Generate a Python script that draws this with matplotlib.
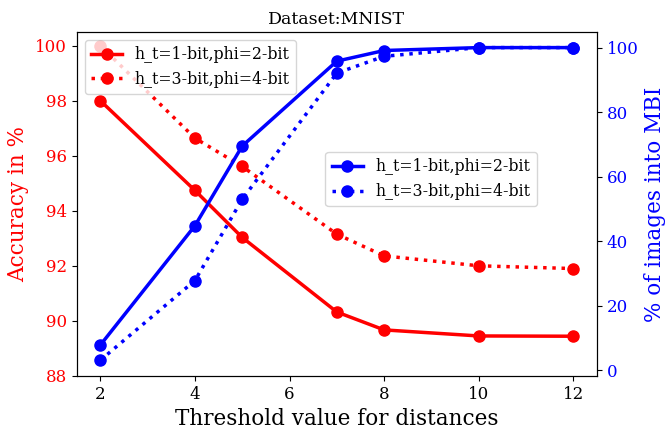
import numpy as np
import matplotlib
matplotlib.use("Agg")
import matplotlib.pyplot as plt

plt.rcParams['font.family'] = 'DejaVu Serif'

thresholds = [2, 4, 5, 7, 8, 10, 12]

# accuracy (%) - left axis
acc_1bit = [98.0, 94.74, 93.03, 90.32, 89.67, 89.45, 89.44]
acc_3bit = [100.0, 96.64, 95.61, 93.15, 92.36, 92.0, 91.9]

# % of images into MBI - right axis
mbi_1bit = [7.8, 44.8, 69.5, 95.8, 99.1, 100.0, 100.0]
mbi_3bit = [3.1, 27.8, 53.0, 92.1, 97.3, 100.0, 100.0]

labels = ['h_t=1-bit,phi=2-bit', 'h_t=3-bit,phi=4-bit']

fig, ax1 = plt.subplots(figsize=(6.67, 4.32), dpi=100)
fig.subplots_adjust(left=0.115, right=0.895, top=0.926, bottom=0.13)

ax1.plot(thresholds, acc_1bit, 'r-', marker='o', lw=2.5, ms=8, label=labels[0])
ax1.plot(thresholds, acc_3bit, 'r:', marker='o', lw=2.5, ms=8, label=labels[1])
ax1.set_ylim(88, 100.5)
ax1.set_ylabel('Accuracy in %', color='r', fontsize=15.5)
ax1.tick_params(axis='y', labelcolor='r', labelsize=12)
ax1.tick_params(axis='x', labelsize=12)
ax1.set_xlabel('Threshold value for distances', fontsize=15.5)
ax1.legend(loc='upper left', fontsize=11.3)

ax2 = ax1.twinx()
ax2.plot(thresholds, mbi_1bit, 'b-', marker='o', lw=2.5, ms=8, label=labels[0])
ax2.plot(thresholds, mbi_3bit, 'b:', marker='o', lw=2.5, ms=8, label=labels[1])
ax2.set_ylabel('% of images into MBI', color='b', fontsize=15.5)
ax2.tick_params(axis='y', labelcolor='b', labelsize=12)
ax2.legend(loc='upper left', bbox_to_anchor=(0.463, 0.674), fontsize=11.3)

ax1.set_title('Dataset:MNIST', fontsize=12.5)

plt.savefig('out.png', dpi=100)
